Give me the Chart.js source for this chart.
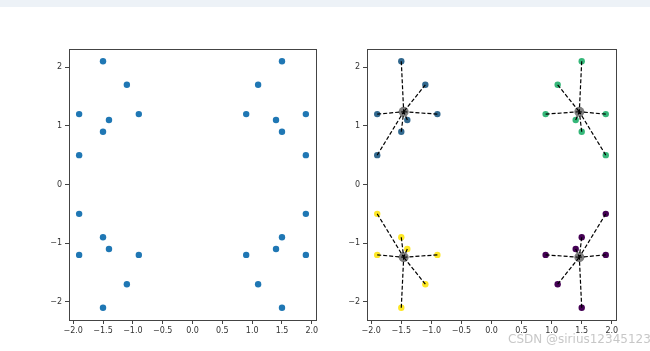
<!DOCTYPE html>
<html>
<head>
<meta charset="utf-8">
<script src="https://cdn.jsdelivr.net/npm/chart.js@4/dist/chart.umd.min.js"></script>
<style>
html,body{margin:0;padding:0;background:#fff;width:650px;height:351px;overflow:hidden;position:relative;font-family:'DejaVu Sans',sans-serif;}
#topbar{position:absolute;left:0;top:0;width:650px;height:7px;background:#edf2f7;}
#c1wrap{position:absolute;left:0;top:0;width:330px;height:351px;}
#c2wrap{position:absolute;left:330px;top:0;width:320px;height:351px;}
#wm{position:absolute;left:508px;top:332px;font-size:12px;color:rgba(175,175,175,0.7);font-family:'DejaVu Sans',sans-serif;white-space:nowrap;}
</style>
</head>
<body>
<div id="topbar"></div>
<div id="c1wrap"><canvas id="c1" width="330" height="351"></canvas></div>
<div id="c2wrap"><canvas id="c2" width="320" height="351"></canvas></div>
<div id="wm">CSDN @sirius12345123</div>
<script>
// Data
const xs = [-1.5,-1.1,-1.9,-0.9,-1.4,-1.5,-1.9,
             1.5, 1.1, 1.9, 0.9, 1.4, 1.5, 1.9,
            -1.5,-1.1,-1.9,-0.9,-1.4,-1.5,-1.9,
             1.5, 1.1, 1.9, 0.9, 1.4, 1.5, 1.9];
const ys = [ 2.1, 1.7, 1.2, 1.2, 1.1, 0.9, 0.5,
             2.1, 1.7, 1.2, 1.2, 1.1, 0.9, 0.5,
            -2.1,-1.7,-1.2,-1.2,-1.1,-0.9,-0.5,
            -2.1,-1.7,-1.2,-1.2,-1.1,-0.9,-0.5];
const clusterLabels = [1,1,1,1,1,1,1, 2,2,2,2,2,2,2, 3,3,3,3,3,3,3, 0,0,0,0,0,0,0];
const centerX = [ 1.46, -1.46, 1.46, -1.46];
const centerY = [-1.24,  1.24, 1.24, -1.24];
const clusterColors = ['#440154','#31688e','#35b779','#fde725'];
const xTicks = [-2.0,-1.5,-1.0,-0.5,0.0,0.5,1.0,1.5,2.0];
const yTicks = [-2,-1,0,1,2];

const fmt = (v,d) => (v < 0 ? '\u2212' : '') + Math.abs(v).toFixed(d);

const boxPlugin = {
  id:'box',
  afterDraw(chart){
    const a = chart.chartArea, c = chart.ctx;
    c.save();
    c.strokeStyle = '#444';
    c.lineWidth = 1;
    c.strokeRect(Math.round(a.left)+0.5, Math.round(a.top)+0.5, Math.round(a.right-a.left), Math.round(a.bottom-a.top));
    c.restore();
  }
};

function scales(){
  const tickFont = {family:'DejaVu Sans', size:8};
  return {
    x:{type:'linear', min:-2.07, max:2.07,
       afterBuildTicks:s=>{s.ticks = xTicks.map(v=>({value:v}));},
       afterFit:s=>{s.height = 20;},
       ticks:{font:tickFont, color:'#333', padding:2, maxRotation:0, autoSkip:false, callback:v=>fmt(v,1)},
       grid:{display:true, drawOnChartArea:false, drawTicks:true, tickLength:4, color:'#444'},
       border:{display:true, color:'#444'}},
    y:{type:'linear', min:-2.31, max:2.31,
       afterBuildTicks:s=>{s.ticks = yTicks.map(v=>({value:v}));},
       afterFit:s=>{s.width = 30;},
       ticks:{font:tickFont, color:'#333', padding:3, autoSkip:false, callback:v=>fmt(v,0)},
       grid:{display:true, drawOnChartArea:false, drawTicks:true, tickLength:4, color:'#444'},
       border:{display:true, color:'#444'}}
  };
}

const commonOpts = (pad) => ({
  responsive:false, animation:false,
  layout:{padding:pad},
  plugins:{legend:{display:false}, tooltip:{enabled:false}},
  scales:scales()
});

const pts = xs.map((x,i)=>({x:x, y:ys[i]}));

new Chart(document.getElementById('c1'), {
  type:'scatter',
  data:{datasets:[{data:pts, backgroundColor:'#1f77b4', borderWidth:0, pointRadius:3.2}]},
  options:commonOpts({left:39, top:49, right:14, bottom:11}),
  plugins:[boxPlugin]
});

const lineSets = pts.map((p,i)=>({
  type:'scatter', showLine:true,
  data:[p, {x:centerX[clusterLabels[i]], y:centerY[clusterLabels[i]]}],
  borderColor:'#000', borderWidth:1.2, borderDash:[4,2], pointRadius:0, fill:false
}));
const centerSet = {
  data:centerX.map((x,k)=>({x:x, y:centerY[k]})),
  backgroundColor:'rgba(0,0,0,0.5)', borderWidth:0, pointRadius:5
};
const colorSet = {
  data:pts,
  backgroundColor:pts.map((p,i)=>clusterColors[clusterLabels[i]]),
  borderWidth:0, pointRadius:3.2
};

new Chart(document.getElementById('c2'), {
  type:'scatter',
  data:{datasets:[...lineSets, centerSet, colorSet]},
  options:commonOpts({left:7, top:49, right:34, bottom:11}),
  plugins:[boxPlugin]
});
</script>
</body>
</html>
